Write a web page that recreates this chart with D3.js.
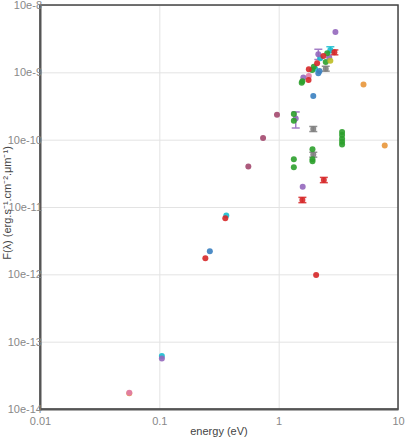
<!DOCTYPE html>
<html lang="en">
<head>
  <meta charset="UTF-8">
  <title>SED</title>
  <script src="https://d3js.org/d3.v7.min.js"></script>
  <style>
    body { margin: 0; padding: 0; background: #fff; font-family: "Liberation Sans", Arial, sans-serif; }
    .tick text { fill: #888; font-size: 11px; }
    .grid line { stroke: #e3e3e3; }
    .grid path { display: none; }
  </style>
</head>
<body>
  <svg id="chart" width="406" height="440"></svg>
  <script>
    // axis ticks
    const xTicks = [0.01, 0.1, 1, 10];
    const yTicks = [1e-14, 1e-13, 1e-12, 1e-11, 1e-10, 1e-9, 1e-8];
    const yTickLabels = ["10e-14", "10e-13", "10e-12", "10e-11", "10e-10", "10e-9", "10e-8"];

    // points: [energy eV, flux, errLow, errHigh]
    const blue = [[0.265, 2.2e-12], [2.20, 1.05e-9], [2.15, 9.7e-10], [1.95, 4.45e-10]];
    const orange = [[5.14, 6.6e-10], [7.74, 8.2e-11], [0.056, 1.72e-14]];
    const green = [[1.34, 2.4e-10], [1.34, 1.91e-10], [3.4, 1.30e-10], [3.4, 1.17e-10], [3.4, 1.03e-10],
      [3.4, 9.3e-11], [3.4, 8.5e-11], [1.34, 5.1e-11], [1.34, 3.9e-11], [1.92, 7.2e-11], [1.92, 5.1e-11],
      [1.92, 4.8e-11], [2.55, 1.92e-9], [2.48, 1.42e-9], [1.97, 1.21e-9], [1.91, 1.08e-9],
      [1.58, 7.4e-10], [1.56, 7.0e-10]];
    const red = [[0.243, 1.73e-12], [0.357, 6.8e-12], [2.39, 2.52e-11, 2.3e-11, 2.75e-11],
      [1.58, 1.27e-11, 1.16e-11, 1.39e-11], [2.06, 9.8e-13], [2.93, 1.98e-9, 1.82e-9, 2.15e-9],
      [2.37, 1.75e-9], [2.10, 1.36e-9], [1.79, 1.11e-9], [1.78, 7.7e-10]];
    const purple = [[0.105, 5.6e-14], [1.39, 2.07e-10, 1.49e-10, 2.58e-10], [2.99, 3.97e-9],
      [2.65, 1.67e-9], [2.15, 1.85e-9, 1.55e-9, 2.2e-9], [1.59, 2.0e-11], [1.61, 8.4e-10]];
    const maroon = [[0.557, 4.0e-11], [0.74, 1.06e-10], [0.968, 2.35e-10]];
    const pink = [[1.79, 8.8e-10], [0.056, 1.75e-14]];
    const gray = [[1.95, 1.44e-10, 1.32e-10, 1.57e-10], [1.95, 6.0e-11, 5.5e-11, 6.5e-11],
      [2.48, 1.13e-9, 1.04e-9, 1.23e-9]];
    const olive = [[2.71, 1.49e-9]];
    const cyan = [[0.105, 6.1e-14], [0.364, 7.5e-12], [2.71, 2.15e-9, 1.95e-9, 2.4e-9],
      [2.23, 1.62e-9], [2.02, 1.13e-9]];

    const series = [
      { data: maroon, color: "#a3486e" },
      { data: orange, color: "#e8963a" },
      { data: pink, color: "#e07aa8" },
      { data: cyan, color: "#17becf" },
      { data: blue, color: "#3a7fc0" },
      { data: gray, color: "#7f7f7f" },
      { data: purple, color: "#9467bd" },
      { data: green, color: "#2ca02c" },
      { data: red, color: "#d62728" },
      { data: olive, color: "#bcbd22" }
    ];

    const margin = { top: 5, right: 8, bottom: 31, left: 40 };
    const width = 406 - margin.left - margin.right;
    const height = 440 - margin.top - margin.bottom;

    const svg = d3.select("#chart");
    const g = svg.append("g").attr("transform", `translate(${margin.left},${margin.top})`);

    const x = d3.scaleLog().domain([0.01, 10]).range([0, width]);
    const y = d3.scaleLog().domain([1e-14, 1e-8]).range([height, 0]);

    // grid
    g.append("g").attr("class", "grid")
      .attr("transform", `translate(0,${height})`)
      .call(d3.axisBottom(x).tickValues(xTicks).tickSize(-height).tickFormat(""));
    g.append("g").attr("class", "grid")
      .call(d3.axisLeft(y).tickValues(yTicks).tickSize(-width).tickFormat(""));

    // frame
    g.append("rect")
      .attr("width", width).attr("height", height)
      .attr("fill", "none").attr("stroke", "#444").attr("stroke-width", 1.5);

    // axes
    const xAxis = g.append("g")
      .attr("transform", `translate(0,${height})`)
      .call(d3.axisBottom(x).tickValues(xTicks).tickSize(0).tickPadding(8)
        .tickFormat(d => d3.format("~g")(d)));
    xAxis.select(".domain").attr("stroke", "#555").attr("stroke-width", 2);

    const yAxis = g.append("g")
      .call(d3.axisLeft(y).tickValues(yTicks).tickSize(0).tickPadding(-2)
        .tickFormat((d, i) => yTickLabels[i]));
    yAxis.select(".domain").attr("stroke", "#555").attr("stroke-width", 2);

    // error bars
    series.forEach(s => {
      const withErr = s.data.filter(d => d.length > 2);
      const eb = g.append("g").attr("stroke", s.color).attr("stroke-width", 1.5).attr("opacity", 0.85);
      eb.selectAll("line.v").data(withErr).join("line")
        .attr("x1", d => x(d[0])).attr("x2", d => x(d[0]))
        .attr("y1", d => y(d[2])).attr("y2", d => y(d[3]));
      eb.selectAll("line.lo").data(withErr).join("line")
        .attr("x1", d => x(d[0]) - 4).attr("x2", d => x(d[0]) + 4)
        .attr("y1", d => y(d[2])).attr("y2", d => y(d[2]));
      eb.selectAll("line.hi").data(withErr).join("line")
        .attr("x1", d => x(d[0]) - 4).attr("x2", d => x(d[0]) + 4)
        .attr("y1", d => y(d[3])).attr("y2", d => y(d[3]));
    });

    // points
    series.forEach(s => {
      g.append("g").selectAll("circle").data(s.data).join("circle")
        .attr("cx", d => x(d[0]))
        .attr("cy", d => y(d[1]))
        .attr("r", 3)
        .attr("fill", s.color)
        .attr("opacity", 0.9);
    });

    // titles
    svg.append("text")
      .attr("x", margin.left + width / 2).attr("y", 435)
      .attr("text-anchor", "middle")
      .attr("font-size", 11).attr("fill", "#444")
      .text("energy (eV)");

    svg.append("text")
      .attr("transform", `translate(11,${margin.top + height / 2 - 4}) rotate(-90)`)
      .attr("text-anchor", "middle")
      .attr("font-size", 11).attr("fill", "#444")
      .text("F(λ) (erg.s⁻¹.cm⁻².μm⁻¹)");
  </script>
</body>
</html>
